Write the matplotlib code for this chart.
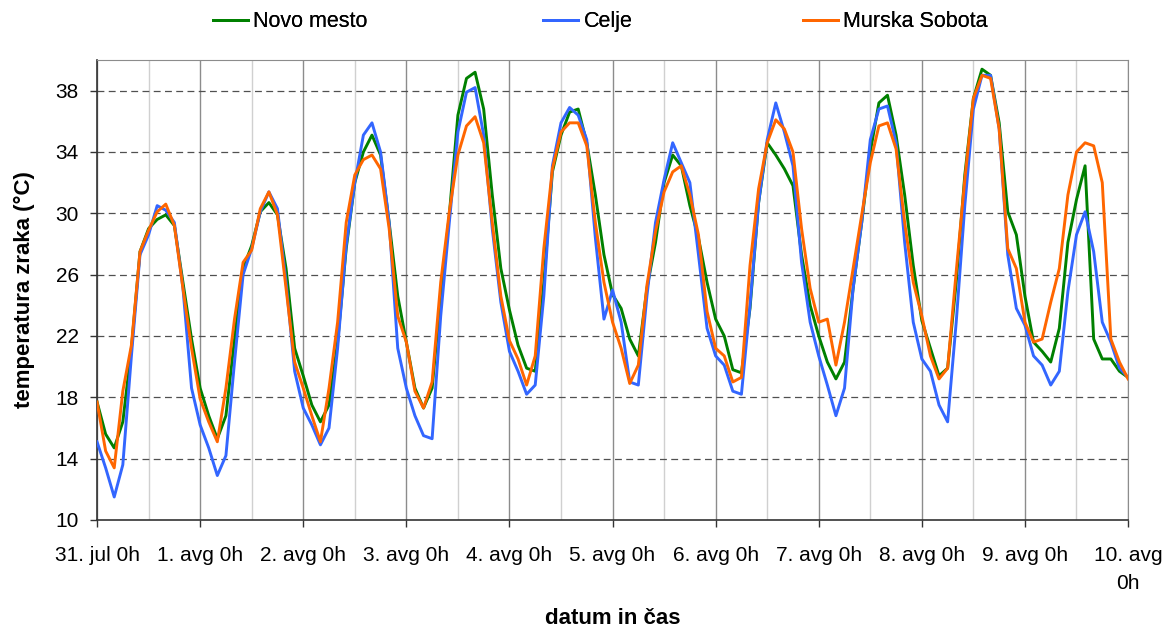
from matplotlib import pyplot as plt
import numpy as np

# Readings every 2 hours, 31. jul 0h .. 10. avg 0h
novo_mesto = [
    17.7, 15.6, 14.7, 16.4, 21.2, 27.5, 29.0, 29.6, 29.9, 29.2, 25.5, 21.8,
    18.6, 16.8, 15.3, 16.8, 21.8, 26.4, 27.9, 30.1, 30.7, 29.9, 26.4, 21.2,
    19.4, 17.5, 16.4, 17.5, 21.6, 27.7, 32.0, 34.0, 35.1, 33.8, 29.4, 24.6,
    21.6, 18.6, 17.3, 18.6, 24.6, 29.9, 36.4, 38.8, 39.2, 36.8, 31.2, 26.4,
    23.7, 21.4, 19.9, 19.7, 25.5, 32.7, 35.1, 36.6, 36.8, 34.6, 31.2, 27.3,
    24.7, 23.8, 21.8, 20.7, 25.1, 28.1, 32.0, 33.8, 33.1, 30.5, 28.4, 25.5,
    23.1, 22.0, 19.8, 19.6, 23.8, 30.7, 34.6, 33.8, 32.9, 31.8, 27.3, 24.0,
    22.0, 20.3, 19.2, 20.3, 25.1, 29.4, 34.0, 37.2, 37.7, 35.1, 31.2, 26.6,
    23.0, 21.2, 19.4, 19.9, 25.5, 32.5, 37.5, 39.4, 39.0, 35.9, 30.1, 28.6,
    24.6, 21.6, 21.0, 20.3, 22.5, 28.1, 30.9, 33.1, 21.8, 20.5, 20.5, 19.7,
    19.3]
celje = [
    15.1, 13.4, 11.5, 13.6, 20.7, 27.3, 28.6, 30.5, 30.2, 29.4, 25.1, 18.6,
    16.2, 14.7, 12.9, 14.2, 20.3, 26.0, 27.7, 30.1, 31.4, 30.3, 25.5, 19.7,
    17.3, 16.2, 14.9, 16.0, 21.2, 27.9, 32.0, 35.1, 35.9, 34.0, 29.4, 21.2,
    18.6, 16.8, 15.5, 15.3, 23.3, 29.4, 35.3, 37.9, 38.2, 35.1, 29.0, 24.2,
    21.0, 19.7, 18.2, 18.8, 24.6, 33.1, 35.9, 36.9, 36.4, 34.8, 28.4, 23.1,
    25.0, 22.9, 19.0, 18.8, 24.6, 29.4, 32.2, 34.6, 33.3, 32.0, 27.3, 22.5,
    20.7, 20.1, 18.4, 18.2, 24.0, 30.7, 34.8, 37.2, 35.3, 33.1, 26.8, 22.9,
    20.7, 18.8, 16.8, 18.6, 25.1, 29.4, 34.8, 36.8, 37.0, 34.6, 28.1, 22.9,
    20.5, 19.7, 17.5, 16.4, 22.9, 30.5, 36.8, 39.0, 39.0, 35.5, 27.3, 23.8,
    22.7, 20.7, 20.1, 18.8, 19.7, 24.9, 28.6, 30.1, 27.5, 22.9, 21.6, 19.9,
    19.3]
murska_sobota = [
    17.7, 14.5, 13.4, 18.4, 21.4, 27.5, 28.9, 30.1, 30.6, 29.2, 25.1, 21.2,
    17.9, 16.4, 15.1, 18.6, 23.1, 26.8, 27.6, 30.3, 31.4, 29.9, 25.1, 20.3,
    18.6, 16.8, 15.1, 18.6, 22.9, 29.4, 32.5, 33.5, 33.8, 32.9, 29.0, 23.3,
    21.6, 18.4, 17.3, 19.0, 25.5, 30.1, 33.8, 35.7, 36.3, 34.6, 29.4, 24.6,
    21.7, 20.5, 18.8, 20.7, 27.7, 32.9, 35.3, 35.9, 35.9, 34.4, 29.4, 25.5,
    22.9, 21.2, 18.9, 20.1, 25.3, 28.8, 31.4, 32.7, 33.1, 31.2, 28.6, 23.6,
    21.2, 20.7, 19.0, 19.3, 26.6, 31.6, 34.6, 36.1, 35.5, 34.0, 29.0, 25.1,
    22.9, 23.1, 20.1, 22.9, 26.4, 29.9, 33.3, 35.7, 35.9, 34.2, 29.4, 25.5,
    23.3, 20.7, 19.2, 19.9, 26.2, 32.2, 37.5, 39.0, 38.8, 35.5, 27.7, 26.4,
    22.9, 21.6, 21.8, 24.2, 26.4, 31.2, 34.0, 34.6, 34.4, 32.0, 21.8, 20.3,
    19.2]

day_labels = ['31. jul 0h', '1. avg 0h', '2. avg 0h', '3. avg 0h',
              '4. avg 0h', '5. avg 0h', '6. avg 0h', '7. avg 0h',
              '8. avg 0h', '9. avg 0h', '10. avg\n0h']
y_ticks = [10, 14, 18, 22, 26, 30, 34, 38]

plt.rcParams['font.family'] = ['Liberation Sans', 'DejaVu Sans']

fig = plt.figure(figsize=(11.72, 6.28), dpi=100)
ax = fig.add_axes([0.0828, 0.172, 0.8797, 0.7325])

hours = np.arange(len(novo_mesto)) * 2

# grid: day lines, noon lines, dashed temperature lines
for d in range(len(day_labels)):
    ax.axvline(d * 24, color='#8c8c8c', linewidth=1.0, zorder=1)
for d in range(len(day_labels) - 1):
    ax.axvline(d * 24 + 12, color='#d0d0d0', linewidth=1.0, zorder=1)
for v in y_ticks[1:]:
    ax.axhline(v, color='#505050', linewidth=0.9, dashes=(5.5, 3.5), zorder=1)

l1, = ax.plot(hours, novo_mesto, color='#008000', linewidth=2.1,
              label='Novo mesto', zorder=3)
l2, = ax.plot(hours, celje, color='#3366ff', linewidth=2.1, label='Celje',
              zorder=4)
l3, = ax.plot(hours, murska_sobota, color='#ff6600', linewidth=2.1,
              label='Murska Sobota', zorder=5)

ax.set_xlim(0, 240)
ax.set_ylim(10, 40)
ax.set_xticks(np.arange(len(day_labels)) * 24)
ax.set_xticklabels(day_labels, fontsize=15, multialignment='center',
                   linespacing=1.65)
ax.set_yticks(y_ticks)
ax.set_yticklabels([str(v) for v in y_ticks], fontsize=15)
ax.tick_params(direction='out', length=5, width=1, color='#333333')
ax.tick_params(axis='x', pad=13.5)
ax.tick_params(axis='y', pad=8)

for side in ['top', 'right']:
    ax.spines[side].set_color('#8c8c8c')
for side in ['left', 'bottom']:
    ax.spines[side].set_color('#333333')
    ax.spines[side].set_linewidth(1.2)

ax.set_xlabel('datum in čas', fontsize=16, fontweight='bold', va='center')
ax.xaxis.set_label_coords(0.5, -0.215)
ax.set_ylabel('temperatura zraka (°C)', fontsize=16, fontweight='bold',
              va='center')
ax.yaxis.set_label_coords(-0.0708, 0.5)

# legend entries spread across the top, one per station
for line, x0 in zip([l1, l2, l3], [213, 543, 803]):
    leg = fig.legend(handles=[line], loc='center left',
                     bbox_to_anchor=(x0 / 1172, 0.965), frameon=False,
                     fontsize=15.5, borderpad=0, borderaxespad=0,
                     handlelength=1.63, handletextpad=0.25)
    fig.add_artist(leg)

plt.savefig('out.png', dpi=100)
